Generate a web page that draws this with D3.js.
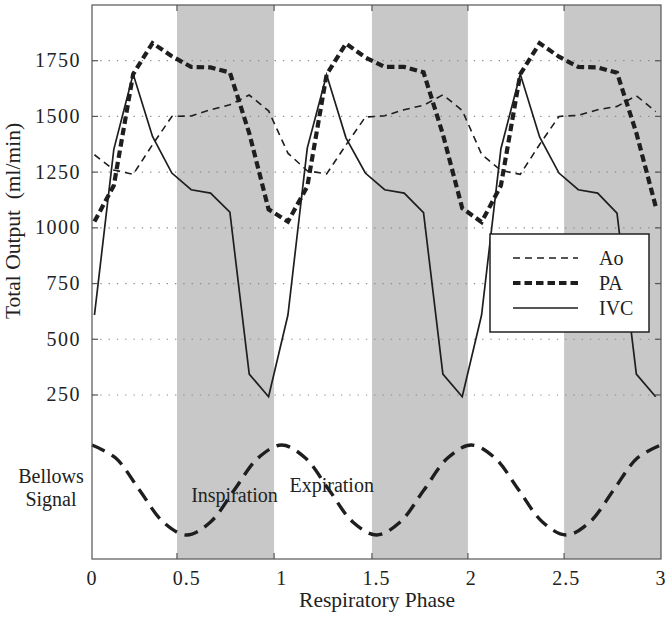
<!DOCTYPE html>
<html>
<head>
<meta charset="utf-8">
<script src="https://cdn.jsdelivr.net/npm/d3@7"></script>
<style>
  html, body { margin: 0; padding: 0; background: #fff; }
  svg text { font-family: "Liberation Serif", "DejaVu Serif", serif; fill: #222; }
</style>
</head>
<body>
<svg id="chart" width="668" height="617"></svg>
<script>
// ---- data ----
const phase = [0.013,0.115,0.217,0.319,0.421,0.523,0.625,0.727,0.829,0.931,
               1.033,1.135,1.237,1.339,1.441,1.543,1.646,1.748,1.850,1.952,
               2.054,2.156,2.258,2.360,2.462,2.564,2.666,2.768,2.870,2.972];
const aoValues  = [1328,1260,1240,1373,1500,1502,1530,1552,1596,1525,
                   1335,1256,1242,1372,1497,1503,1530,1550,1597,1527,
                   1330,1258,1240,1374,1500,1505,1530,1545,1593,1522];
const paValues  = [1028,1190,1690,1829,1770,1722,1720,1697,1425,1083,
                   1028,1185,1688,1827,1765,1722,1722,1698,1420,1088,
                   1026,1190,1690,1828,1768,1722,1720,1696,1426,1096];
const ivcValues = [609,1352,1690,1410,1246,1171,1156,1070,344,242,
                   609,1358,1687,1404,1246,1171,1156,1068,344,242,
                   609,1355,1690,1408,1246,1171,1156,1066,344,242];
const bellowsPhase  = [0,0.125,0.25,0.375,0.5,0.625,0.75,0.875,1,1.125,1.25,1.375,1.5,1.625,1.75,1.875,2,2.125,2.25,2.375,2.5,2.625,2.75,2.875,3];
const bellowsValues = [1,0.71,0,-0.71,-1,-0.71,0,0.71,1,0.71,0,-0.71,-1,-0.71,0,0.71,1,0.71,0,-0.71,-1,-0.71,0,0.71,1];
const bands = [[0.448,0.96],[1.476,1.982],[2.489,3.0]];
const xTickLabels = [0,0.5,1,1.5,2,2.5,3];
const xTickMarks = [0.448,0.96,1.476,1.982,2.489];
const yTicks = [250,500,750,1000,1250,1500,1750];
const seriesNames = ["Ao","PA","IVC"];

// ---- layout ----
const L = 92, R = 661, T = 5, B = 559;
const svg = d3.select("#chart");
const x = d3.scaleLinear().domain([0,3]).range([L,R]);
const y = d3.scaleLinear().domain([-486,2000]).range([B,T]);
const yb = d3.scaleLinear().domain([-1,1]).range([535,445]);

// bands
svg.append("g").selectAll("rect").data(bands).join("rect")
  .attr("x", d => x(d[0])).attr("y", T)
  .attr("width", d => x(d[1]) - x(d[0])).attr("height", B - T)
  .attr("fill", "#c8c8c8");

// grid lines
svg.append("g").selectAll("line").data(yTicks).join("line")
  .attr("x1", L).attr("x2", R)
  .attr("y1", d => y(d)).attr("y2", d => y(d))
  .attr("stroke", "#8a8a8a").attr("stroke-width", 1.2)
  .attr("stroke-dasharray", "1.3 7");

// lines
const line = (vals) => d3.line().x((d,i) => x(phase[i])).y(d => y(d))(vals);
svg.append("path").attr("d", line(aoValues)).attr("fill","none")
  .attr("stroke","#1e1e1e").attr("stroke-width",1.6).attr("stroke-dasharray","7 5");
svg.append("path").attr("d", line(ivcValues)).attr("fill","none")
  .attr("stroke","#1e1e1e").attr("stroke-width",1.7);
svg.append("path").attr("d", line(paValues)).attr("fill","none")
  .attr("stroke","#1e1e1e").attr("stroke-width",4.2).attr("stroke-dasharray","7.5 4");

// bellows
const bl = d3.line().curve(d3.curveCatmullRom)
  .x((d,i) => x(bellowsPhase[i])).y(d => yb(d));
svg.append("path").attr("d", bl(bellowsValues)).attr("fill","none")
  .attr("stroke","#1e1e1e").attr("stroke-width",3.4).attr("stroke-dasharray","14 8");

// frame
svg.append("rect").attr("x", L).attr("y", T).attr("width", R-L).attr("height", B-T)
  .attr("fill","none").attr("stroke","#555").attr("stroke-width",1.2);

// ticks
const tk = svg.append("g").attr("stroke","#555").attr("stroke-width",1.2);
xTickMarks.forEach(v => {
  tk.append("line").attr("x1",x(v)).attr("x2",x(v)).attr("y1",B).attr("y2",B-6);
  tk.append("line").attr("x1",x(v)).attr("x2",x(v)).attr("y1",T).attr("y2",T+6);
});
yTicks.forEach(v => {
  tk.append("line").attr("x1",L).attr("x2",L+6).attr("y1",y(v)).attr("y2",y(v));
  tk.append("line").attr("x1",R).attr("x2",R-6).attr("y1",y(v)).attr("y2",y(v));
});

// tick labels
svg.append("g").selectAll("text").data(xTickLabels).join("text")
  .attr("x", d => x(d)).attr("y", 585).attr("text-anchor","middle")
  .attr("font-size", 20).attr("letter-spacing", 1)
  .text(d => d);
svg.append("g").selectAll("text").data(yTicks).join("text")
  .attr("x", 81).attr("y", d => y(d) + 6.5).attr("text-anchor","end")
  .attr("font-size", 20).attr("letter-spacing", 1.5)
  .text(d => d);

// axis titles
svg.append("text").attr("x", 377).attr("y", 607).attr("text-anchor","middle")
  .attr("font-size", 21.5).text("Respiratory Phase");
svg.append("text").attr("transform","translate(20,221) rotate(-90)")
  .attr("text-anchor","middle").attr("font-size", 21.5)
  .attr("xml:space","preserve").style("white-space","pre")
  .text("Total Output  (ml/min)");

// annotations
svg.append("text").attr("x", 51).attr("y", 483).attr("text-anchor","middle").attr("font-size",20).text("Bellows");
svg.append("text").attr("x", 51).attr("y", 506).attr("text-anchor","middle").attr("font-size",20).text("Signal");
svg.append("text").attr("x", 234.5).attr("y", 502).attr("text-anchor","middle").attr("font-size",20).text("Inspiration");
svg.append("text").attr("x", 331.7).attr("y", 492).attr("text-anchor","middle").attr("font-size",20).text("Expiration");

// legend
const lg = svg.append("g");
lg.append("rect").attr("x",490).attr("y",234).attr("width",159).attr("height",98)
  .attr("fill","#fff").attr("stroke","#222").attr("stroke-width",1.5);
const styles = [
  {w:1.6, dash:"7 5"},
  {w:4.2, dash:"7.5 4"},
  {w:1.7, dash:null}
];
seriesNames.forEach((name,i) => {
  const yy = 258 + i*25;
  const ln = lg.append("line").attr("x1",513).attr("x2",578).attr("y1",yy).attr("y2",yy)
    .attr("stroke","#1e1e1e").attr("stroke-width",styles[i].w);
  if (styles[i].dash) ln.attr("stroke-dasharray", styles[i].dash);
  lg.append("text").attr("x",599).attr("y",yy+7).attr("font-size",20).text(name);
});
</script>
</body>
</html>
